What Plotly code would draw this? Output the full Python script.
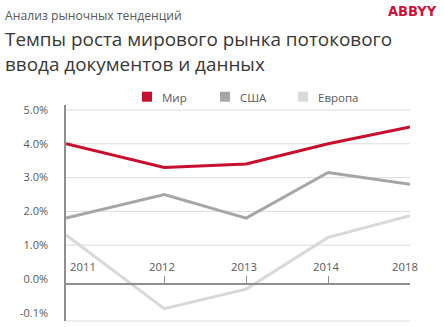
import plotly.graph_objects as go

# --- data -------------------------------------------------------------
years = ["2011", "2012", "2013", "2014", "2018"]
world = [4.0, 3.3, 3.4, 4.0, 4.5]
usa = [1.8, 2.5, 1.8, 3.15, 2.8]
europe = [1.3, -0.88, -0.3, 1.23, 1.87]
series_names = ["Мир", "США", "Европа"]
y_tick_vals = [-1, 0, 1, 2, 3, 4, 5]
y_tick_text = ["-0.1%", "0.0%", "1.0%", "2.0%", "3.0%", "4.0%", "5.0%"]

# --- layout constants -------------------------------------------------
W, H = 444, 327
L, R, T, B = 66, 34, 105, 6
PW, PH = W - L - R, H - T - B
slots = [0, 1.2, 2.2, 3.2, 4.2]          # category positions on the x scale
colors = ["#c8102e", "#a6a6a6", "#d9d9d9"]
grey_txt = "#595959"
axis_grey = "#8f8f8f"
grid_grey = "#dcdcdc"
FONT = "Open Sans"


def px_x(px):
    return (px - L) / PW


def px_y(py):
    return (H - B - py) / PH


fig = go.Figure()
for name, vals, col in zip(series_names, [world, usa, europe], colors):
    fig.add_trace(go.Scatter(x=slots, y=vals, mode="lines", name=name,
                             line=dict(color=col, width=3), showlegend=False,
                             hoverinfo="skip"))

shapes = []
# horizontal gridlines above zero
for v in y_tick_vals:
    if v > 0:
        shapes.append(dict(type="line", xref="paper", yref="y", x0=0, x1=1, y0=v, y1=v,
                           line=dict(color=grid_grey, width=1), layer="below"))
# bottom border of the plot area
shapes.append(dict(type="line", xref="paper", yref="paper", x0=0, x1=1, y0=0, y1=0,
                   line=dict(color=grid_grey, width=1), layer="below"))

annotations = []
# legend drawn by hand: square swatch + label
legend_left = [142, 220, 298]
for name, col, lx in zip(series_names, colors, legend_left):
    shapes.append(dict(type="rect", xref="paper", yref="paper",
                       x0=px_x(lx), x1=px_x(lx + 10), y0=px_y(101.7), y1=px_y(91.7),
                       fillcolor=col, line=dict(width=0)))
    annotations.append(dict(text=name, xref="paper", yref="paper", x=px_x(lx + 18),
                            y=px_y(97), xanchor="left", yanchor="middle", showarrow=False,
                            font=dict(family=FONT, size=11.5, color=grey_txt)))

# category labels sitting above the horizontal axis line
for i, (yr, s) in enumerate(zip(years, slots)):
    annotations.append(dict(text=yr, xref="x", yref="paper", x=s, y=px_y(266.5),
                            xanchor="left" if i == 0 else "center", yanchor="middle",
                            xshift=2 if i == 0 else (-5 if i == len(years) - 1 else -2),
                            showarrow=False,
                            font=dict(family=FONT, size=11.3, color=grey_txt)))

# headings
annotations.append(dict(text="Анализ рыночных тенденций", xref="paper", yref="paper",
                        x=px_x(3), y=px_y(15.5), xanchor="left", yanchor="middle",
                        showarrow=False, font=dict(family=FONT, size=12.2, color=grey_txt)))
annotations.append(dict(text="Темпы роста мирового рынка потокового<br>"
                             "ввода документов и данных",
                        xref="paper", yref="paper", x=px_x(3), y=px_y(51),
                        xanchor="left", yanchor="middle", align="left", showarrow=False,
                        font=dict(family=FONT, size=18.9, color="#383838")))
annotations.append(dict(text="<b>ABBYY</b>", xref="paper", yref="paper",
                        x=px_x(439), y=px_y(10.5), xanchor="right", yanchor="middle",
                        showarrow=False,
                        font=dict(family="Liberation Sans Narrow, DejaVu Sans Condensed, Arial",
                                  size=14.5, color="#d0103a")))

fig.update_layout(
    width=W, height=H,
    margin=dict(l=L, r=R, t=T, b=B, pad=0),
    paper_bgcolor="white", plot_bgcolor="white",
    showlegend=False,
    shapes=shapes, annotations=annotations,
    xaxis=dict(range=[0, 4.2], tickvals=slots, showticklabels=False,
               ticks="inside", ticklen=7, tickcolor=axis_grey, tickwidth=1.3,
               showline=True, linecolor=axis_grey, linewidth=1.5,
               showgrid=False, zeroline=False,
               anchor="free", position=(H - B - 284) / PH),
    yaxis=dict(range=[-1.243, 5.148], tickvals=y_tick_vals, ticktext=y_tick_text,
               showgrid=False, zeroline=False, showline=True, linecolor=axis_grey,
               linewidth=1.5, ticks="", ticklabelstandoff=14,
               tickfont=dict(family=FONT, size=11, color=grey_txt)),
)

fig.write_html("out.html")
